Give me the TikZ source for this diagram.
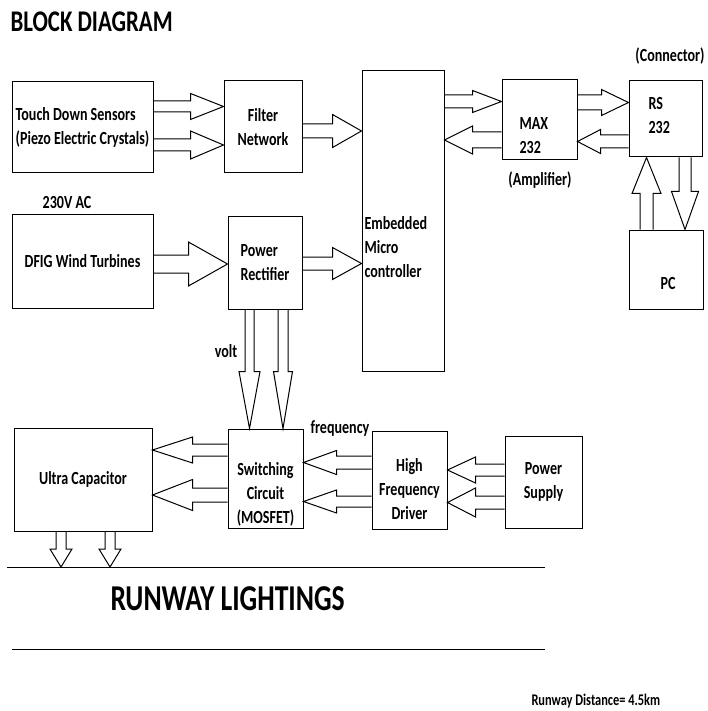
\documentclass[tikz,border=0pt]{standalone}
\usepackage{fontspec}
\setmainfont{Carlito}[FakeStretch=0.76]
\usetikzlibrary{calc}
\tikzset{
  barrow/.style args={#1/#2/#3}{to path={
    ($(\tikztostart)!#1pt!90:(\tikztotarget)$)
    -- ($($(\tikztotarget)!#3pt!(\tikztostart)$)!#1pt!90:(\tikztotarget)$)
    -- ($($(\tikztotarget)!#3pt!(\tikztostart)$)!#2pt!90:(\tikztotarget)$)
    -- (\tikztotarget)
    -- ($($(\tikztotarget)!#3pt!(\tikztostart)$)!#2pt!-90:(\tikztotarget)$)
    -- ($($(\tikztotarget)!#3pt!(\tikztostart)$)!#1pt!-90:(\tikztotarget)$)
    -- ($(\tikztostart)!#1pt!-90:(\tikztotarget)$)}},
  box/.style={draw, inner sep=0pt, align=center, font=\fontsize{18.5}{24}\selectfont\bfseries},
  txt/.style={inner sep=0pt, font=\fontsize{18.5}{24}\selectfont\bfseries}
}
\begin{document}
\begin{tikzpicture}[x=1pt, y=-1pt, line width=1pt]
\useasboundingbox (0,0) rectangle (708,711);
\node[txt, anchor=base west, font=\fontsize{30}{36}\selectfont\bfseries] (title) at (10,32) {BLOCK DIAGRAM};

\node[box, align=left, minimum width=141pt, minimum height=91pt] (touch) at (82.5,127.5) {Touch Down Sensors\\(Piezo Electric Crystals)};
\node[box, minimum width=78pt, minimum height=92pt] (filter) at (263,127) {Filter\\Network};
\node[box, minimum width=141pt, minimum height=93pt] (dfig) at (82.5,261.5) {DFIG Wind Turbines};
\node[box, align=left, minimum width=74pt, minimum height=92pt] (rect) at (265,263) {Power\\Rectifier};
\node[box, minimum width=82pt, minimum height=300pt] (mcu) at (403,221) {};
\node[box, minimum width=75pt, minimum height=80pt] (max) at (539.5,120) {};
\node[box, minimum width=73pt, minimum height=76pt] (rs) at (665.5,119) {};
\node[box, minimum width=74pt, minimum height=79pt] (pc) at (666,269.5) {};
\node[box, minimum width=138pt, minimum height=103pt] (ucap) at (83,479.5) {Ultra Capacitor};
\node[box, minimum width=75pt, minimum height=99pt] (sw) at (265.5,478.5) {};
\node[box, minimum width=75pt, minimum height=98pt] (hfd) at (409.5,480) {};
\node[box, minimum width=77pt, minimum height=92pt] (ps) at (543.5,482) {Power\\Supply};

\node[txt, align=left, anchor=west] (mcutext) at (364,247) {Embedded\\Micro\\controller};
\node[txt, align=left, anchor=west] (maxtext) at (519,136) {MAX\\232};
\node[txt, align=left, anchor=west] (rstext) at (648,115) {RS\\232};
\node[txt] (pctext) at (668,283) {PC};
\node[txt, align=center] (swtext) at (265.5,494) {Switching\\Circuit\\(MOSFET)};
\node[txt, align=center] (hfdtext) at (409.5,489) {High\\Frequency\\Driver};

\node[txt, anchor=base] (conn) at (670,62) {(Connector)};
\node[txt, anchor=base] (amp) at (540,186) {(Amplifier)};
\node[txt, anchor=base] (ac) at (67,209) {230V AC};
\node[txt, anchor=base] (volt) at (226,357) {volt};
\node[txt, anchor=base] (freq) at (340,433) {frequency};

\draw (touch.east |- 0,106.5) to[barrow=5.5/13/33] (filter.west |- 0,106.5);
\draw (touch.east |- 0,145) to[barrow=6/14/33] (filter.west |- 0,145);
\draw (filter.east |- 0,131) to[barrow=7/16.5/29] (mcu.west |- 0,131);
\draw (dfig.east |- 0,264) to[barrow=9/22/39] (rect.west |- 0,264);
\draw (rect.east |- 0,263.5) to[barrow=6.5/16/29] (mcu.west |- 0,263.5);
\draw (mcu.east |- 0,101.5) to[barrow=6.5/11/29] (max.west |- 0,101.5);
\draw (max.west |- 0,140) to[barrow=8/14/28] (mcu.east |- 0,140);
\draw (max.east |- 0,102.5) to[barrow=7.5/13/27] (rs.west |- 0,102.5);
\draw (rs.west |- 0,141.5) to[barrow=6.5/12/23] (max.east |- 0,141.5);
\draw (rs.south -| 685,0) to[barrow=6/13.5/38] (pc.north -| 685,0);
\draw (pc.north -| 646.5,0) to[barrow=6.5/14.5/36] (rs.south -| 646.5,0);
\draw (rect.south -| 249.5,0) to[barrow=4.5/10.5/57] (sw.north -| 249.5,0);
\draw (rect.south -| 283,0) to[barrow=5/9.5/57] (sw.north -| 283,0);
\draw (sw.west |- 0,450) to[barrow=6/13/40] (ucap.east |- 0,450);
\draw (sw.west |- 0,495) to[barrow=7/15.5/40] (ucap.east |- 0,495);
\draw (hfd.west |- 0,462.5) to[barrow=6.5/12/33] (sw.east |- 0,462.5);
\draw (hfd.west |- 0,501.5) to[barrow=5.5/11.5/33] (sw.east |- 0,501.5);
\draw (ps.west |- 0,470) to[barrow=6/13/28] (hfd.east |- 0,470);
\draw (ps.west |- 0,502.5) to[barrow=6.5/14.5/28] (hfd.east |- 0,502.5);

\coordinate (r1) at (7,567);
\coordinate (r2) at (545,567);
\draw (r1) -- (r2);
\draw (ucap.south -| 61,0) to[barrow=5/11/18] (r1 -| 61,0);
\draw (ucap.south -| 110,0) to[barrow=5/11/18] (r1 -| 110,0);
\node[txt, anchor=base west, font=\fontsize{36.4}{40}\selectfont\bfseries] (runway) at (110,610) {RUNWAY LIGHTINGS};
\draw (12,649.5) -- (545,649.5);
\node[txt, anchor=base west, font=\fontsize{16.3}{20}\selectfont\bfseries] (dist) at (531,705) {Runway Distance= 4.5km};
\end{tikzpicture}
\end{document}
